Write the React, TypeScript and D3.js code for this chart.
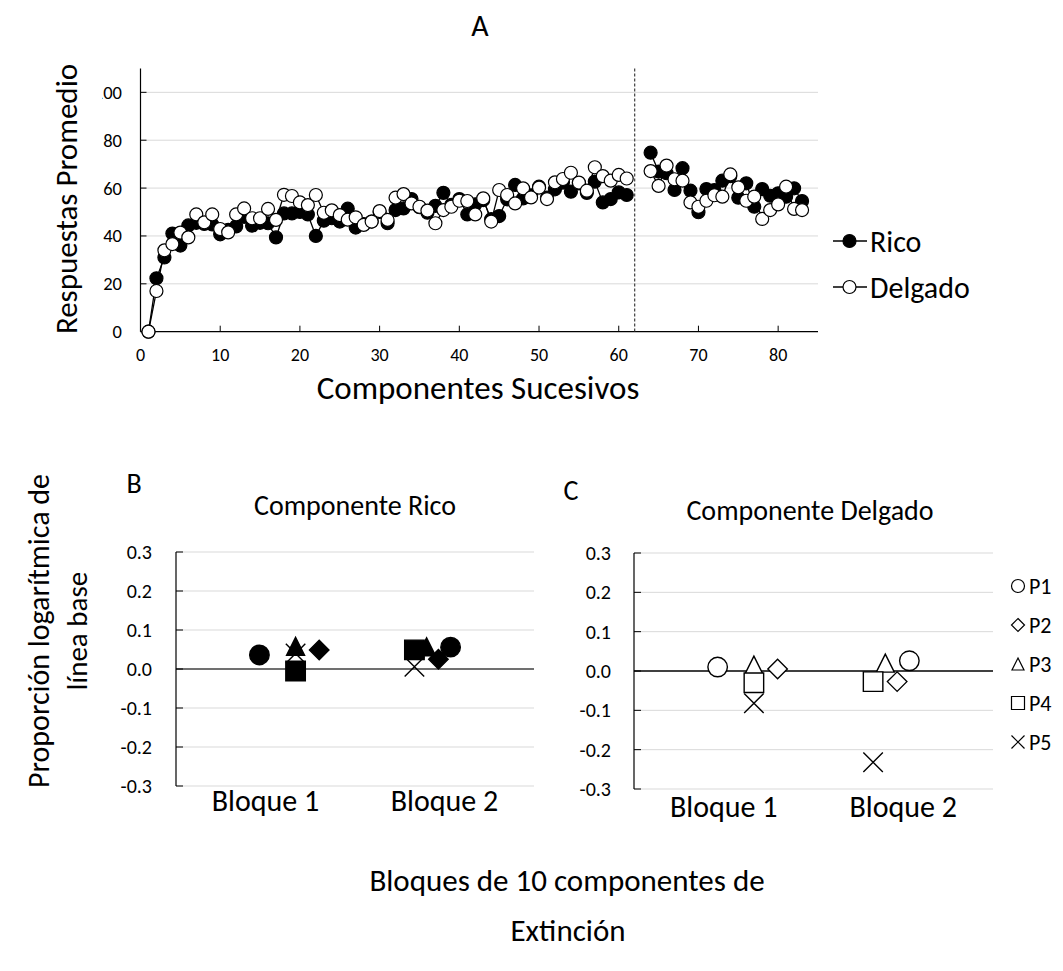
import * as d3 from "d3";
import React from "react";

// Panel A: mean responses per successive component
const ricoBase = [0, 22.3, 31, 41, 36, 44.4, 45.5, 45, 44.8, 40.7, 42.5, 44, 48, 44.3, 45.5, 45.3, 39.4, 49.4, 49.4, 50, 49, 40, 46.4, 47.4, 46, 51.4, 43.5, 45, 46, 50, 45.3, 50.8, 51.5, 55.4, 52, 49.7, 52.6, 58, 53, 55.4, 49, 53.2, 55, 47, 48.3, 55.3, 61.3, 55.7, 57, 60.6, 56, 59.5, 62.3, 58.5, 62, 58, 62.7, 54, 55.4, 58.2, 57.1];
const delgadoBase = [0, 17, 34, 36.6, 41.4, 39.4, 49, 45.7, 49, 42.9, 41.5, 49, 51.5, 47.4, 47.4, 51.3, 46.7, 57.2, 56.7, 54, 52.9, 57.1, 49.7, 50.7, 48.7, 46.8, 47.8, 44.6, 46, 50.4, 46.7, 56, 57.5, 53.6, 52.2, 50.6, 45.3, 50.8, 52.2, 54.7, 54.6, 49, 55.7, 46, 59.2, 57.1, 53.6, 59.9, 56.1, 60.2, 55.4, 62.4, 63.8, 66.4, 62.3, 58.9, 68.7, 65, 63.1, 65.5, 64];
const ricoExt = [74.8, 66.9, 66.2, 59.2, 68.3, 58.9, 49.9, 59.6, 59.2, 63.1, 65, 56, 62, 52.2, 59.6, 56.8, 57.8, 56.4, 59.9, 54.6];
const delgadoExt = [67.1, 60.9, 69.4, 63.7, 63.1, 54, 52.2, 54.7, 57, 56.4, 65.7, 60.3, 54.7, 56.4, 47.1, 50.8, 53.2, 60.6, 51.3, 50.8];
const extStart = 64;
const phaseChange = 62;
const xTicksA = [0, 10, 20, 30, 40, 50, 60, 70, 80];
const yTicksA = [0, 20, 40, 60, 80, 100];

// Panels B and C: log proportion of baseline
const participants = ["P1", "P2", "P3", "P4", "P5"];
const bloques = ["Bloque 1", "Bloque 2"];
const ricoB1 = [0.036, 0.049, 0.058, -0.005, 0.04];
const ricoB2 = [0.056, 0.025, 0.057, 0.049, 0.006];
const delgadoB1 = [0.01, 0.005, 0.015, -0.03, -0.082];
const delgadoB2 = [0.026, -0.027, 0.02, -0.027, -0.232];
const jitterB1 = [-0.034, 0.3, 0.168, 0.168, 0.168];
const jitterB2 = [0.034, -0.034, -0.1, -0.168, -0.168];
const yTicksBC = [-0.3, -0.2, -0.1, 0, 0.1, 0.2, 0.3];

const shapes = ["circle", "diamond", "triangle", "square", "x"];
const FONT = "Carlito, Calibri, Lato, sans-serif";

function marker(shape: string, cx: number, cy: number, s: number) {
  const h = s / 2;
  if (shape === "circle")
    return `M${cx - h},${cy}a${h},${h} 0 1,0 ${s},0a${h},${h} 0 1,0 ${-s},0Z`;
  if (shape === "diamond")
    return `M${cx},${cy - h}L${cx + h},${cy}L${cx},${cy + h}L${cx - h},${cy}Z`;
  if (shape === "triangle")
    return `M${cx},${cy - h}L${cx + h},${cy + h}L${cx - h},${cy + h}Z`;
  if (shape === "square")
    return `M${cx - h},${cy - h}H${cx + h}V${cy + h}H${cx - h}Z`;
  return `M${cx - h},${cy - h}L${cx + h},${cy + h}M${cx + h},${cy - h}L${cx - h},${cy + h}`;
}

function PanelA() {
  const x = d3.scaleLinear().domain([0, 85]).range([140.5, 818]);
  const y = d3.scaleLinear().domain([0, 110]).range([331.7, 68.4]);
  const line = d3
    .line<[number, number]>()
    .x((d) => x(d[0]))
    .y((d) => y(d[1]));

  const series = [
    { name: "Rico", fill: "#000", base: ricoBase, ext: ricoExt },
    { name: "Delgado", fill: "#fff", base: delgadoBase, ext: delgadoExt }
  ].map((s) => ({
    ...s,
    p1: s.base.map((v, i) => [i + 1, v] as [number, number]),
    p2: s.ext.map((v, i) => [extStart + i, v] as [number, number])
  }));

  return (
    <g>
      <defs>
        <clipPath id="clipA">
          <rect x={102} y={0} width={900} height={400} />
        </clipPath>
      </defs>
      {/* gridlines */}
      {yTicksA.slice(1).map((t) => (
        <line key={t} x1={x(0)} x2={x(85)} y1={y(t)} y2={y(t)} stroke="#d9d9d9" strokeWidth={1} />
      ))}
      {/* axes */}
      <line x1={x(0)} x2={x(0)} y1={y(0)} y2={y(110)} stroke="#000" strokeWidth={1.2} />
      <line x1={x(0)} x2={x(85)} y1={y(0)} y2={y(0)} stroke="#000" strokeWidth={1.2} />
      {yTicksA.map((t) => (
        <line key={t} x1={x(0)} x2={x(0) + 6} y1={y(t)} y2={y(t)} stroke="#000" />
      ))}
      {xTicksA.slice(1).map((t) => (
        <line key={t} x1={x(t)} x2={x(t)} y1={y(0)} y2={y(0) - 6} stroke="#000" />
      ))}
      <g clipPath="url(#clipA)" fontFamily={FONT} fontSize={18.5} fill="#000">
        {yTicksA.map((t) => (
          <text key={t} x={122} y={y(t)} textAnchor="end" dominantBaseline="central">
            {t}
          </text>
        ))}
      </g>
      <g fontFamily={FONT} fontSize={18}>
        {xTicksA.map((t) => (
          <text key={t} x={x(t)} y={355} textAnchor="middle" dominantBaseline="central">
            {t}
          </text>
        ))}
      </g>
      {/* phase change line */}
      <line
        x1={x(phaseChange)}
        x2={x(phaseChange)}
        y1={y(110)}
        y2={y(0)}
        stroke="#404040"
        strokeWidth={1.2}
        strokeDasharray="3,2"
      />
      {series.map((s) => (
        <g key={s.name}>
          <path d={line(s.p1) || ""} fill="none" stroke="#000" strokeWidth={1.3} />
          <path d={line(s.p2) || ""} fill="none" stroke="#000" strokeWidth={1.3} />
          {[...s.p1, ...s.p2].map((d, i) => (
            <circle key={i} cx={x(d[0])} cy={y(d[1])} r={6.5} fill={s.fill} stroke="#000" strokeWidth={1.2} />
          ))}
        </g>
      ))}
      {/* legend */}
      {series.map((s, i) => (
        <g key={s.name} transform={`translate(0,${241 + i * 46})`}>
          <line x1={833} x2={867} y1={0} y2={0} stroke="#000" strokeWidth={1.3} />
          <circle cx={849.5} cy={0} r={6.5} fill={s.fill} stroke="#000" strokeWidth={1.2} />
          <text x={870} y={0} fontFamily={FONT} fontSize={30} dominantBaseline="central">
            {s.name}
          </text>
        </g>
      ))}
      <text x={480} y={25} fontFamily={FONT} fontSize={30} textAnchor="middle" dominantBaseline="central">
        A
      </text>
      <text x={478} y={388} fontFamily={FONT} fontSize={33} textAnchor="middle" dominantBaseline="central">
        Componentes Sucesivos
      </text>
      <text
        transform={`translate(66,199) rotate(-90)`}
        fontFamily={FONT}
        fontSize={31}
        textAnchor="middle"
        dominantBaseline="central"
      >
        Respuestas Promedio
      </text>
    </g>
  );
}

function PanelBC({
  left,
  right,
  top,
  bottom,
  b1,
  b2,
  filled,
  zeroColor,
  tickRight,
  labelY
}: {
  left: number;
  right: number;
  top: number;
  bottom: number;
  b1: number[];
  b2: number[];
  filled: boolean;
  zeroColor: string;
  tickRight: number;
  labelY: number;
}) {
  const x = d3.scaleLinear().domain([0.5, 2.5]).range([left, right]);
  const y = d3.scaleLinear().domain([-0.3, 0.3]).range([bottom, top]);
  const pts = [
    ...b1.map((v, i) => ({ p: i, cx: x(1 + jitterB1[i]), cy: y(v) })),
    ...b2.map((v, i) => ({ p: i, cx: x(2 + jitterB2[i]), cy: y(v) }))
  ];
  const size = (p: number) => (shapes[p] === "triangle" ? 18 : 19.5);
  return (
    <g>
      {yTicksBC.map((t) => (
        <line
          key={t}
          x1={left}
          x2={right}
          y1={y(t)}
          y2={y(t)}
          stroke={t === 0 ? zeroColor : "#d9d9d9"}
          strokeWidth={t === 0 ? 1.3 : 1}
        />
      ))}
      <line x1={left} x2={left} y1={top} y2={bottom} stroke="#000" strokeWidth={1.2} />
      {yTicksBC.map((t) => (
        <line key={t} x1={left} x2={left + 7} y1={y(t)} y2={y(t)} stroke="#000" />
      ))}
      <g fontFamily={FONT} fontSize={20}>
        {yTicksBC.map((t) => (
          <text key={t} x={tickRight} y={y(t)} textAnchor="end" dominantBaseline="central">
            {t.toFixed(1)}
          </text>
        ))}
      </g>
      {bloques.map((b, i) => (
        <text
          key={b}
          x={x(i + 1)}
          y={labelY}
          fontFamily={FONT}
          fontSize={30}
          textAnchor="middle"
          dominantBaseline="central"
        >
          {b}
        </text>
      ))}
      {pts.map((d, i) => (
        <path
          key={i}
          d={marker(shapes[d.p], d.cx, d.cy, size(d.p))}
          fill={shapes[d.p] === "x" ? "none" : filled ? "#000" : "#fff"}
          stroke="#000"
          strokeWidth={1.4}
        />
      ))}
    </g>
  );
}

export default function App() {
  return (
    <svg
      width={1063}
      height={971}
      style={{ position: "absolute", left: 0, top: 0, background: "#fff" }}
    >
      <rect width={1063} height={971} fill="#fff" />
      <PanelA />
      <PanelBC
        left={176}
        right={534}
        top={552}
        bottom={786}
        b1={ricoB1}
        b2={ricoB2}
        filled={true}
        zeroColor="#404040"
        tickRight={152}
        labelY={800}
      />
      <PanelBC
        left={634}
        right={993}
        top={553}
        bottom={789}
        b1={delgadoB1}
        b2={delgadoB2}
        filled={false}
        zeroColor="#000"
        tickRight={611}
        labelY={806}
      />
      <g fontFamily={FONT} textAnchor="middle" dominantBaseline="central">
        <text x={134} y={483} fontSize={28}>B</text>
        <text x={571} y={490} fontSize={28}>C</text>
        <text x={355} y={505} fontSize={28}>Componente Rico</text>
        <text x={810} y={510} fontSize={28}>Componente Delgado</text>
        <text transform="translate(38,631) rotate(-90)" fontSize={30}>
          Proporción logarítmica de
        </text>
        <text transform="translate(77,631) rotate(-90)" fontSize={29}>
          línea base
        </text>
        <text x={567} y={880} fontSize={31}>Bloques de 10 componentes de</text>
        <text x={568} y={930} fontSize={31}>Extinción</text>
      </g>
      {/* legend C */}
      <g fontFamily={FONT} fontSize={22}>
        {participants.map((p, i) => (
          <g key={p} transform={`translate(0,${586 + i * 39})`}>
            <path
              d={marker(shapes[i], 1018, 0, shapes[i] === "triangle" ? 12 : 13)}
              fill="none"
              stroke="#000"
              strokeWidth={1.2}
            />
            <text x={1029} y={0} dominantBaseline="central">
              {p}
            </text>
          </g>
        ))}
      </g>
    </svg>
  );
}
